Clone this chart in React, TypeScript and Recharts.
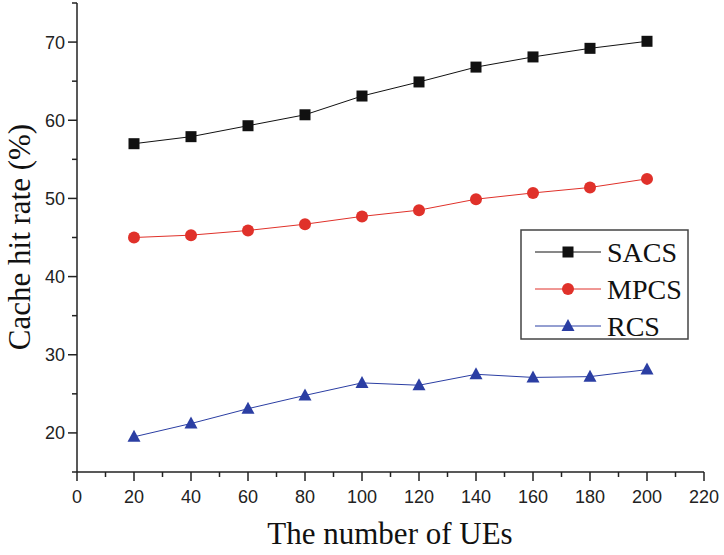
import type { FC } from "react"
import { Line, LineChart, XAxis, YAxis } from "recharts"

const UES = [20, 40, 60, 80, 100, 120, 140, 160, 180, 200]
const SACS = [57.0, 57.9, 59.3, 60.7, 63.1, 64.9, 66.8, 68.1, 69.2, 70.1]
const MPCS = [45.0, 45.3, 45.9, 46.7, 47.7, 48.5, 49.9, 50.7, 51.4, 52.5]
const RCS = [19.5, 21.2, 23.1, 24.8, 26.4, 26.1, 27.5, 27.1, 27.2, 28.1]

const X_TICKS = [0, 10, 20, 30, 40, 50, 60, 70, 80, 90, 100, 110, 120, 130, 140, 150, 160, 170, 180, 190, 200, 210, 220]
const Y_TICKS = [15, 20, 25, 30, 35, 40, 45, 50, 55, 60, 65, 70, 75]

const data = UES.map((n, i) => ({ n, sacs: SACS[i], mpcs: MPCS[i], rcs: RCS[i] }))

type Shape = "square" | "circle" | "triangle"

const SERIES: { key: "sacs" | "mpcs" | "rcs"; name: string; color: string; shape: Shape }[] = [
  { key: "sacs", name: "SACS", color: "#111111", shape: "square" },
  { key: "mpcs", name: "MPCS", color: "#e0312a", shape: "circle" },
  { key: "rcs", name: "RCS", color: "#2b3ea3", shape: "triangle" },
]

const Marker: FC<{ cx: number; cy: number; color: string; shape: Shape }> = ({ cx, cy, color, shape }) => {
  if (shape === "square") return <rect x={cx - 5.5} y={cy - 5.5} width={11} height={11} fill={color} />
  if (shape === "circle") return <circle cx={cx} cy={cy} r={6} fill={color} />
  return <polygon points={`${cx},${cy - 7} ${cx + 6.5},${cy + 5} ${cx - 6.5},${cy + 5}`} fill={color} />
}

const TICK_FONT = "'Liberation Sans', Arial, sans-serif"
const TITLE_FONT = "'Liberation Serif', 'Times New Roman', serif"

const XTick = (p: any) => {
  const major = p.payload.value % 20 === 0
  return (
    <g>
      <line x1={p.x} x2={p.x} y1={p.y} y2={p.y + (major ? 9 : 5)} stroke="#222" strokeWidth={1.5} />
      {major ? (
        <text x={p.x} y={p.y + 31} textAnchor="middle" fontSize={18} fontFamily={TICK_FONT} fill="#222">
          {p.payload.value}
        </text>
      ) : null}
    </g>
  )
}

const YTick = (p: any) => {
  const major = p.payload.value % 10 === 0
  return (
    <g>
      <line x1={p.x} x2={p.x - (major ? 9 : 5)} y1={p.y} y2={p.y} stroke="#222" strokeWidth={1.5} />
      {major ? (
        <text x={p.x - 12} y={p.y + 6.5} textAnchor="end" fontSize={18} fontFamily={TICK_FONT} fill="#222">
          {p.payload.value}
        </text>
      ) : null}
    </g>
  )
}

const LegendBox: FC<{ x: number; y: number }> = ({ x, y }) => (
  <g>
    <rect x={x} y={y} width={167} height={109} fill="#fff" stroke="#444" strokeWidth={1.5} />
    {SERIES.map((s, i) => {
      const ry = y + 22 + i * 37
      return (
        <g key={s.key}>
          <line x1={x + 14} x2={x + 80} y1={ry} y2={ry} stroke={s.color} strokeWidth={1} />
          <Marker cx={x + 47} cy={ry} color={s.color} shape={s.shape} />
          <text x={x + 86} y={ry + 10} fontSize={28} fontFamily={TITLE_FONT} fill="#111">
            {s.name}
          </text>
        </g>
      )
    })}
  </g>
)

export default function App() {
  return (
    <div style={{ position: "absolute", left: 0, top: 0, background: "#fff" }}>
      <LineChart width={724} height={555} data={data} margin={{ top: 3, right: 20, bottom: 82, left: 76 }}>
        <XAxis
          dataKey="n"
          type="number"
          domain={[0, 220]}
          ticks={X_TICKS}
          interval={0}
          height={1}
          tickSize={0}
          tickMargin={0}
          tickLine={false}
          tick={XTick}
          axisLine={{ stroke: "#222", strokeWidth: 1.5 }}
        />
        <YAxis
          type="number"
          domain={[15, 75]}
          ticks={Y_TICKS}
          interval={0}
          width={1}
          tickSize={0}
          tickMargin={0}
          tickLine={false}
          tick={YTick}
          axisLine={{ stroke: "#222", strokeWidth: 1.5 }}
        />
        {SERIES.map((s) => (
          <Line
            key={s.key}
            type="linear"
            dataKey={s.key}
            name={s.name}
            stroke={s.color}
            strokeWidth={1}
            dot={(d: any) => <Marker key={`${s.key}-${d.index}`} cx={d.cx} cy={d.cy} color={s.color} shape={s.shape} />}
            activeDot={false}
            isAnimationActive={false}
          />
        ))}
        <LegendBox x={521} y={230} />
        <text x={390} y={544} textAnchor="middle" fontSize={31} fontFamily={TITLE_FONT} fill="#111">
          The number of UEs
        </text>
        <text
          x={30}
          y={237}
          textAnchor="middle"
          fontSize={31}
          fontFamily={TITLE_FONT}
          fill="#111"
          transform="rotate(-90 30 237)"
        >
          Cache hit rate (%)
        </text>
      </LineChart>
    </div>
  )
}
